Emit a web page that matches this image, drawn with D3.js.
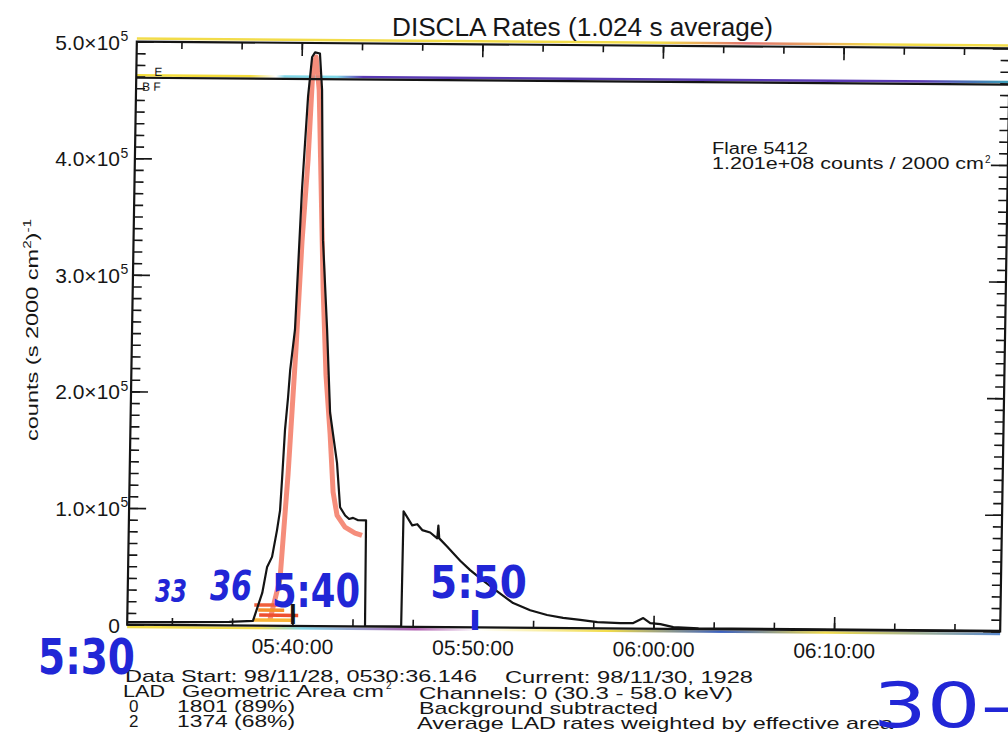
<!DOCTYPE html>
<html>
<head>
    <meta charset="utf-8">
    <title>DISCLA Rates (1.024 s average)</title>
    <script src="https://cdn.jsdelivr.net/npm/d3@7/dist/d3.min.js"></script>
    <style>
        body { margin: 0; background: #fff; }
        text { font-family: "Liberation Sans", Arial, sans-serif; }
        .tick line { stroke: #161616; stroke-width: 1.6px; }
        .hand { font-family: "DejaVu Sans", sans-serif; font-weight: bold; fill: #2126d6; }
    </style>
</head>
<body>
<div id="vis"></div>
<script>
    var width = 1008,
        height = 755;

    // times are minutes after 05:00 UT, 98/11/28
    var xDomain = [30.86, 79.2];
    var xMajor = [40, 50, 60, 70];
    var xLabels = ["05:40:00", "05:50:00", "06:00:00", "06:10:00"];
    var yMajor = [0, 1e5, 2e5, 3e5, 4e5, 5e5];
    var yLabels = ["0", "1.0", "2.0", "3.0", "4.0", "5.0"];

    // averaged LAD rate (black)
    var rateTime = [30.86, 33.78, 36.5, 37.82, 38.31, 38.55, 38.82, 39.07, 39.22, 39.30, 39.42, 39.56, 39.65, 39.88,
        40.14, 40.39, 40.58, 40.74, 41.01, 41.16, 41.35, 41.66, 41.90, 42.33, 42.54, 42.83, 43.05, 43.27, 43.55, 43.99,
        44.03, 46.03, 46.06, 46.55, 46.83, 47.11, 47.55, 47.95, 48.0, 48.06, 48.5, 49.24, 49.8, 50.53, 51.32, 52.21,
        53.16, 54.1, 54.99, 55.94, 56.89, 58.16, 58.88, 59.43, 59.82, 60.38, 61.1, 62.5, 79.2];
    var rateValue = [2000, 2500, 3000, 4000, 28000, 50000, 59000, 82000, 99000, 125000, 168000, 196000, 219000, 254000,
        374000, 454000, 488000, 492000, 491000, 460000, 331000, 254000, 183000, 140000, 102000, 95000, 92000, 93000, 91000, 91000,
        0, 0, 99000, 87000, 88000, 83000, 81000, 76000, 87000, 76000, 69000, 57000, 49000, 40000, 31000, 21000,
        15000, 11000, 8600, 7000, 5300, 4600, 4700, 9000, 4800, 4000, 1500, 500, 500];

    // second detector rate (red)
    var lad2Time = [38.76, 39.28, 39.63, 39.96, 40.19, 40.45, 40.64, 40.8, 41.0, 41.19, 41.4, 41.64, 41.92, 42.14, 42.38, 42.83, 43.39, 43.78];
    var lad2Value = [5000, 40000, 130000, 240000, 330000, 400000, 480000, 488000, 460000, 380000, 290000, 215000, 165000, 115000, 95000, 85000, 80000, 78000];

    // coloured strokes under the rise
    var smearStart = [37.88, 38.1, 38.16, 37.83];
    var smearEnd = [39.27, 39.54, 40.32, 40.04];
    var smearLevel = [17700, 13400, 9000, 4800];
    var smearColor = ["#f0603c", "#f5902c", "#ee5030", "#f8b436"];

    var levelValue = 469000;

    function toDate(m) {
        return new Date(Date.UTC(1998, 10, 28, 5, 0, 0) + m * 60000);
    }

    var x = d3.scaleUtc()
        .domain(xDomain.map(toDate))
        .range([132, 1005]);

    var y = d3.scaleLinear()
        .domain([0, 5e5])
        .range([628, 45]);

    var svg = d3.select("#vis").append("svg")
        .attr("width", width)
        .attr("height", height);

    var defs = svg.append("defs");

    defs.append("clipPath").attr("id", "plotClip")
        .append("rect")
        .attr("x", x.range()[0]).attr("y", y.range()[1])
        .attr("width", x.range()[1] - x.range()[0])
        .attr("height", y.range()[0] - y.range()[1]);

    function gradient(id, stops) {
        var g = defs.append("linearGradient")
            .attr("id", id)
            .attr("gradientUnits", "userSpaceOnUse")
            .attr("x1", x.range()[0]).attr("x2", x.range()[1])
            .attr("y1", 0).attr("y2", 0);
        stops.forEach(function(s) {
            g.append("stop").attr("offset", s[0]).attr("stop-color", s[1]);
        });
    }
    gradient("levelFringe", [[0, "#f3dc3c"], [0.13, "#f3dc3c"], [0.16, "#ffffff"], [0.17, "#7fd6e6"], [0.23, "#7fd6e6"], [0.26, "#5a3ab4"], [0.9, "#5a3ab4"], [1, "#3aa0b8"]]);
    gradient("topFringe", [[0, "#f2dc4a"], [0.6, "#f2dc4a"], [0.7, "#e07070"], [0.85, "#f2dc4a"], [1, "#f2dc4a"]]);
    gradient("bottomFringe", [[0, "#f2dc4a"], [0.15, "#f2dc4a"], [0.2, "#7fd6e6"], [0.33, "#b060b0"], [0.4, "#ffffff"], [0.55, "#f2dc4a"], [0.68, "#3a60c0"], [0.8, "#f2dc4a"], [1, "#5a8ad0"]]);

    // the scanned plot is slightly rotated and sheared
    var chart = svg.append("g")
        .attr("transform", "translate(568,336) rotate(0.45) skewX(-0.5) translate(-568,-336)");

    // scan colour fringes
    chart.append("line")
        .attr("x1", x.range()[0]).attr("x2", x.range()[1])
        .attr("y1", y.range()[1] - 3).attr("y2", y.range()[1] - 3)
        .attr("stroke", "url(#topFringe)").attr("stroke-width", 2.5);
    chart.append("line")
        .attr("x1", x.range()[0]).attr("x2", x.range()[1])
        .attr("y1", y(levelValue) - 2.5).attr("y2", y(levelValue) - 2.5)
        .attr("stroke", "url(#levelFringe)").attr("stroke-width", 2.5);
    chart.append("line")
        .attr("x1", x.range()[0]).attr("x2", x.range()[1])
        .attr("y1", y.range()[0] + 2.5).attr("y2", y.range()[0] + 2.5)
        .attr("stroke", "url(#bottomFringe)").attr("stroke-width", 2.5);

    var plot = chart.append("g").attr("clip-path", "url(#plotClip)");

    var line = d3.line()
        .x(function(d) { return x(toDate(d[0])); })
        .y(function(d) { return y(d[1]); });

    plot.append("path")
        .datum(d3.zip(lad2Time, lad2Value))
        .attr("d", line)
        .attr("fill", "none")
        .attr("stroke", "#f2705a")
        .attr("stroke-opacity", 0.8)
        .attr("stroke-width", 5)
        .attr("stroke-linejoin", "round");

    plot.selectAll(".smear")
        .data(d3.range(smearStart.length))
        .enter().append("line")
        .attr("class", "smear")
        .attr("x1", function(i) { return x(toDate(smearStart[i])); })
        .attr("x2", function(i) { return x(toDate(smearEnd[i])); })
        .attr("y1", function(i) { return y(smearLevel[i]); })
        .attr("y2", function(i) { return y(smearLevel[i]); })
        .attr("stroke", function(i) { return smearColor[i]; })
        .attr("stroke-width", 3.5);

    plot.append("path")
        .datum(d3.zip(rateTime, rateValue))
        .attr("d", line)
        .attr("fill", "none")
        .attr("stroke", "#141414")
        .attr("stroke-width", 2.2)
        .attr("stroke-linejoin", "round");

    // horizontal level line with its small labels
    chart.append("line")
        .attr("x1", x.range()[0]).attr("x2", x.range()[1])
        .attr("y1", y(levelValue)).attr("y2", y(levelValue))
        .attr("stroke", "#141414").attr("stroke-width", 2.2);
    chart.append("text")
        .attr("x", x.range()[0] + 18).attr("y", y(levelValue) - 2)
        .attr("font-size", 12).attr("fill", "#161616").text("E");
    chart.append("text")
        .attr("x", x.range()[0] + 6).attr("y", y(levelValue) + 13)
        .attr("font-size", 12).attr("fill", "#161616").text("B F");

    // frame
    chart.append("rect")
        .attr("x", x.range()[0]).attr("y", y.range()[1])
        .attr("width", x.range()[1] - x.range()[0])
        .attr("height", y.range()[0] - y.range()[1])
        .attr("fill", "none")
        .attr("stroke", "#141414")
        .attr("stroke-width", 2.2);

    var xMinor = d3.range(xDomain[0] - xDomain[0] % (10 / 3) + 10 / 3, xDomain[1], 10 / 3).map(toDate);
    var yMinor = d3.range(0, 5e5, 1e4);

    function clean(g) { g.select(".domain").remove(); }

    chart.append("g")
        .attr("transform", "translate(0," + y.range()[0] + ")")
        .call(d3.axisBottom(x).tickValues(xMinor).tickSize(-7).tickFormat(""))
        .call(clean);
    chart.append("g")
        .attr("transform", "translate(0," + y.range()[0] + ")")
        .call(d3.axisBottom(x).tickValues(xMajor.map(toDate)).tickSize(-13).tickPadding(13)
            .tickFormat(function(d, i) { return xLabels[i]; }))
        .call(clean)
        .selectAll("text")
        .attr("font-size", 21)
        .attr("font-family", "Liberation Sans, Arial, sans-serif")
        .attr("fill", "#161616");
    chart.append("g")
        .attr("transform", "translate(0," + y.range()[1] + ")")
        .call(d3.axisTop(x).tickValues(xMinor).tickSize(-7).tickFormat(""))
        .call(clean);
    chart.append("g")
        .attr("transform", "translate(0," + y.range()[1] + ")")
        .call(d3.axisTop(x).tickValues(xMajor.map(toDate)).tickSize(-13).tickFormat(""))
        .call(clean);

    [[d3.axisLeft, x.range()[0]], [d3.axisRight, x.range()[1]]].forEach(function(a) {
        chart.append("g")
            .attr("transform", "translate(" + a[1] + ",0)")
            .call(a[0](y).tickValues(yMinor).tickSize(-9).tickFormat(""))
            .call(clean);
        chart.append("g")
            .attr("transform", "translate(" + a[1] + ",0)")
            .call(a[0](y).tickValues(yMajor).tickSize(-17).tickFormat(""))
            .call(clean);
    });

    // y tick labels, right-aligned on the mantissa, exponent sticking out
    var yText = svg.append("g").attr("transform", "translate(0,-3)").attr("fill", "#161616");
    yMajor.forEach(function(v, i) {
        yText.append("text")
            .attr("x", 120)
            .attr("y", y(v) + 7.5)
            .attr("font-size", 21)
            .attr("text-anchor", "end")
            .text(i === 0 ? yLabels[i] : yLabels[i] + "\u00d710");
        if (i > 0) {
            yText.append("text")
                .attr("x", 120.5)
                .attr("y", y(v) - 1)
                .attr("font-size", 14)
                .text("5");
        }
    });

    svg.append("text")
        .attr("transform", "translate(38,330) rotate(-90)")
        .attr("text-anchor", "middle")
        .attr("font-size", 17)
        .attr("fill", "#161616")
        .attr("textLength", 222)
        .attr("lengthAdjust", "spacingAndGlyphs")
        .call(function(t) {
            t.append("tspan").text("counts (s 2000 cm");
            t.append("tspan").attr("font-size", 11).attr("dy", -7).text("2");
            t.append("tspan").attr("dy", 7).text(")");
            t.append("tspan").attr("font-size", 11).attr("dy", -7).text("-1");
        });

    svg.append("text")
        .attr("x", 392).attr("y", 36)
        .attr("font-size", 25)
        .attr("fill", "#161616")
        .attr("textLength", 381)
        .attr("lengthAdjust", "spacingAndGlyphs")
        .text("DISCLA Rates (1.024 s average)");

    var legend = svg.append("g").attr("fill", "#161616");
    legend.append("text")
        .attr("x", 712).attr("y", 154)
        .attr("font-size", 16)
        .attr("textLength", 96)
        .attr("lengthAdjust", "spacingAndGlyphs")
        .text("Flare 5412");
    legend.append("text")
        .attr("x", 712).attr("y", 169)
        .attr("font-size", 16)
        .attr("textLength", 272)
        .attr("lengthAdjust", "spacingAndGlyphs")
        .text("1.201e+08 counts / 2000 cm");
    legend.append("text")
        .attr("x", 985).attr("y", 163)
        .attr("font-size", 10)
        .text("2");

    // info block under the plot
    var info = [
        ["Data Start: 98/11/28, 0530:36.146", 125, 682, 352],
        ["Current: 98/11/30, 1928", 505, 683, 248],
        ["LAD", 123, 697, 42],
        ["Geometric Area cm", 182, 697, 202],
        ["0", 129, 712, 0],
        ["1801 (89%)", 177, 712, 118],
        ["2", 129, 727, 0],
        ["1374 (68%)", 177, 727, 118],
        ["Channels:  0 (30.3 - 58.0 keV)", 419, 699, 314],
        ["Background subtracted", 419, 714, 239],
        ["Average LAD rates weighted by effective area", 417, 729, 476]
    ];
    var infoG = svg.append("g").attr("fill", "#161616");
    info.forEach(function(r) {
        var t = infoG.append("text")
            .attr("x", r[1]).attr("y", r[2])
            .attr("font-size", 17)
            .text(r[0]);
        if (r[3]) t.attr("textLength", r[3]).attr("lengthAdjust", "spacingAndGlyphs");
    });
    infoG.append("text")
        .attr("x", 386).attr("y", 689)
        .attr("font-size", 10)
        .text("2");

    // handwritten pen notes
    var notes = [
        ["5:30", 38, 674, 97, 50, "normal"],
        ["5:40", 272, 607, 88, 46, "normal"],
        ["5:50", 430, 598, 97, 45, "normal"],
        ["33", 155, 602, 32, 32, "italic"],
        ["36", 210, 600, 42, 40, "italic"],
        ["l", 469, 630, 12, 26, "normal"]
    ];
    notes.forEach(function(n) {
        svg.append("text")
            .attr("class", "hand")
            .attr("x", n[1]).attr("y", n[2])
            .attr("font-size", n[4])
            .attr("font-style", n[5])
            .attr("textLength", n[3])
            .attr("lengthAdjust", "spacingAndGlyphs")
            .text(n[0]);
    });
    svg.append("text")
        .attr("x", 289).attr("y", 624)
        .attr("font-family", "DejaVu Sans, sans-serif")
        .attr("font-weight", "bold")
        .attr("font-size", 28)
        .attr("fill", "#141414")
        .text("l");
    svg.append("text")
        .attr("class", "hand")
        .attr("x", 873).attr("y", 727)
        .attr("font-size", 62)
        .style("font-weight", "normal")
        .attr("textLength", 150)
        .attr("lengthAdjust", "spacingAndGlyphs")
        .text("30\u2013");
</script>
</body>
</html>
